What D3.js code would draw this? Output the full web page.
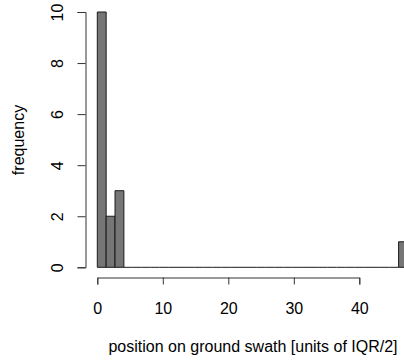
<!DOCTYPE html>
<html><head><meta charset="utf-8">
<script src="https://cdn.jsdelivr.net/npm/d3@7"></script>
<style>body{margin:0;background:#fff}svg{display:block}text{font-family:"Liberation Sans",Arial,sans-serif;fill:#000}</style>
</head><body>
<svg id="c" width="404" height="360"></svg>
<script>
const counts = [10,2,3,0,0,0,0,0,0,0,0,0,0,0,0,0,0,0,0,0,0,0,0,0,0,0,0,0,0,0,0,0,0,0,1];
const breakStart = 0;
const binWidth = 46/34;
const xTicks = [0,10,20,30,40];
const yTicks = [0,2,4,6,8,10];
const xLabel = "position on ground swath [units of IQR/2]";
const yLabel = "frequency";

const svg = d3.select("#c");
const x = d3.scaleLinear().domain([0,40]).range([97.3,359.3]);
const y = d3.scaleLinear().domain([0,10]).range([267.3,12]);
const FS = "16px";

const bins = counts.map((c,i)=>({x0:breakStart+i*binWidth, x1:breakStart+(i+1)*binWidth, c}));
svg.append("g").selectAll("path").data(bins).join("path")
  .attr("d",d=>{
    const a=x(d.x0), b=x(d.x1), t=y(d.c), z=y(0);
    return d.c>0 ? `M${a},${z}V${t}H${b}V${z}Z` : `M${a},${z}H${b}`;
  })
  .attr("fill","#767676").attr("stroke","#1a1a1a").attr("stroke-width",1);

const gx = svg.append("g").attr("transform","translate(0,277.5)")
  .call(d3.axisBottom(x).tickValues(xTicks).tickSize(7).tickFormat(""));
gx.select(".domain").attr("stroke","#333");
gx.selectAll(".tick line").attr("stroke","#333");
gx.selectAll(".tick").append("text")
  .attr("y",36).attr("text-anchor","middle")
  .style("font-size",FS).text(d=>d);

const gy = svg.append("g").attr("transform","translate(85.5,0)")
  .call(d3.axisLeft(y).tickValues(yTicks).tickSize(8).tickFormat(""));
gy.select(".domain").attr("stroke","#333");
gy.selectAll(".tick line").attr("stroke","#333");
gy.selectAll(".tick").append("text")
  .attr("transform","translate(-28.5,0) rotate(-90)")
  .attr("text-anchor","middle").attr("dy","0.36em")
  .style("font-size",FS).text(d=>d);

svg.append("text").attr("x",253).attr("y",352).attr("text-anchor","middle")
  .style("font-size",FS).text(xLabel);
svg.append("text").attr("transform","translate(18,140) rotate(-90)").attr("text-anchor","middle")
  .attr("dy","0.36em").style("font-size",FS).text(yLabel);
</script>
</body></html>
